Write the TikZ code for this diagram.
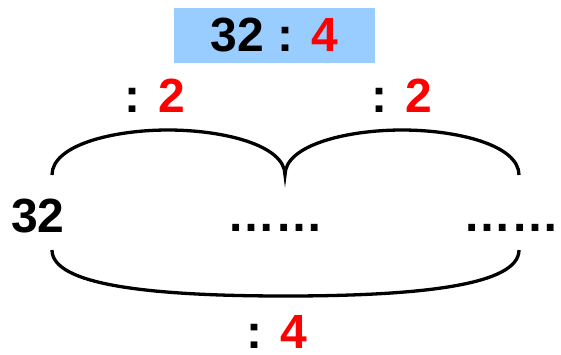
\documentclass[tikz,border=0pt]{standalone}
\usepackage{fontspec}
\setmainfont{Liberation Sans}
\definecolor{boxblue}{RGB}{153,204,255}
\definecolor{numred}{RGB}{255,0,0}
\tikzset{
  bigfont/.style={font=\fontsize{48}{48}\selectfont\bfseries},
  lbl/.style={bigfont, inner sep=0pt, anchor=base},
  arcline/.style={line width=3.3pt},
}
\begin{document}
\begin{tikzpicture}[x=1pt,y=-1pt]
\useasboundingbox (0,0) rectangle (561,354);
\node[bigfont, fill=boxblue, minimum width=201pt, minimum height=55pt, inner sep=0pt] (title) at (274.5,35.5) {32 : \textcolor{numred}{4}};
\node[lbl] (d1) at (154.5,112) {: \textcolor{numred}{2}};
\node[lbl] (d2) at (401.5,112) {: \textcolor{numred}{2}};
\node[lbl] (n32) at (38,232) {32};
\node[lbl] (dots1) at (275.5,231) {……};
\node[lbl] (dots2) at (511.5,231) {……};
\node[lbl] (d4) at (277,348) {: \textcolor{numred}{4}};
\coordinate (tl) at (52,175);
\coordinate (tm) at (285,175);
\coordinate (tr) at (519,175);
\coordinate (p1) at (168,130);
\coordinate (p2) at (402,130);
\coordinate (bl) at (52,250);
\coordinate (br) at (519,250);
\coordinate (p3) at (285.5,296);
\draw[arcline] (tl) .. controls +(0,-30) and +(-55,0) .. (p1)
  .. controls +(55,0) and +(0,-30) .. (tm)
  .. controls +(0,-30) and +(-55,0) .. (p2)
  .. controls +(55,0) and +(0,-30) .. (tr);
\draw[arcline] (bl) .. controls +(0,35) and +(-135.5,0) .. (p3)
  .. controls +(135.5,0) and +(0,35) .. (br);
\end{tikzpicture}
\end{document}
